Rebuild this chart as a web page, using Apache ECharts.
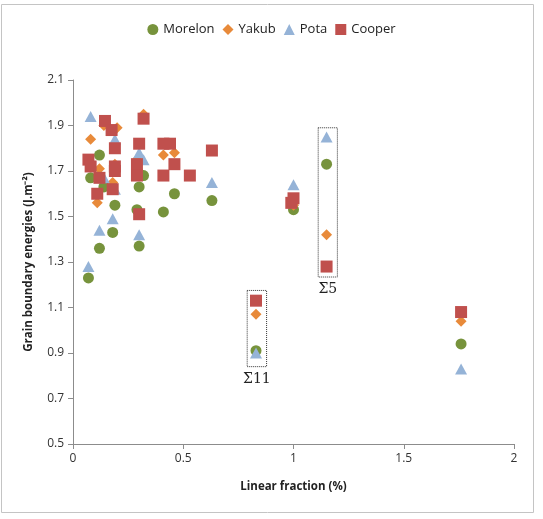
<!DOCTYPE html>
<html>
<head>
<meta charset="utf-8">
<script src="https://cdn.jsdelivr.net/npm/echarts@6/dist/echarts.min.js"></script>
<style>
  html, body { margin: 0; padding: 0; background: #fff; }
  #main { width: 543px; height: 519px; }
</style>
</head>
<body>
<div id="main"></div>
<script>
var morelon = [[0.07,1.23],[0.08,1.67],[0.12,1.77],[0.12,1.36],[0.14,1.63],[0.18,1.43],[0.19,1.55],
  [0.29,1.53],[0.30,1.37],[0.30,1.63],[0.32,1.68],[0.41,1.52],[0.46,1.60],[0.63,1.57],
  [0.83,0.91],[1.00,1.53],[1.15,1.73],[1.76,0.94]];
var yakub = [[0.08,1.84],[0.11,1.56],[0.12,1.71],[0.14,1.90],[0.18,1.65],[0.19,1.73],[0.20,1.89],
  [0.29,1.75],[0.32,1.95],[0.41,1.77],[0.46,1.78],[0.83,1.07],[1.00,1.55],[1.15,1.42],[1.76,1.04]];
var pota = [[0.07,1.28],[0.08,1.94],[0.12,1.44],[0.14,1.67],[0.18,1.49],[0.19,1.84],[0.19,1.62],
  [0.30,1.42],[0.30,1.78],[0.32,1.75],[0.63,1.65],[0.83,0.90],[1.00,1.64],[1.15,1.85],[1.76,0.83]];
var cooper = [[0.07,1.75],[0.08,1.72],[0.11,1.60],[0.12,1.67],[0.145,1.92],[0.175,1.88],[0.18,1.62],
  [0.19,1.80],[0.19,1.72],[0.19,1.70],[0.29,1.73],[0.29,1.68],[0.30,1.82],[0.30,1.51],[0.32,1.93],
  [0.41,1.82],[0.44,1.82],[0.41,1.68],[0.46,1.73],[0.53,1.68],[0.63,1.79],[0.83,1.13],
  [0.99,1.56],[1.00,1.58],[1.15,1.28],[1.76,1.08]];

// dotted boxes around the special boundaries
var boxNames = ['Σ11', 'Σ5'];
var boxX = [[0.79, 0.878], [1.112, 1.199]];
var boxY = [[0.84, 1.175], [1.234, 1.89]];

var font = 'Open Sans';
var myChart = echarts.init(document.getElementById('main'));

var areas = [];
for (var i = 0; i < boxNames.length; i++) {
  areas.push([
    {name: boxNames[i], coord: [boxX[i][0], boxY[i][1]]},
    {coord: [boxX[i][1], boxY[i][0]]}
  ]);
}

option = {
  animation: false,
  textStyle: {fontFamily: font},
  graphic: [{
    type: 'rect',
    shape: {x: 1.5, y: 4.5, width: 532, height: 508},
    style: {fill: 'none', stroke: '#c4c4c4', lineWidth: 1}
  }],
  legend: {
    top: 18,
    left: 'center',
    itemWidth: 11,
    itemHeight: 11,
    itemGap: 8,
    textStyle: {fontFamily: font, fontSize: 13, color: '#222'},
    data: ['Morelon', 'Yakub', 'Pota', 'Cooper']
  },
  grid: {left: 73, right: 29, top: 80, bottom: 75},
  xAxis: {
    type: 'value',
    min: 0, max: 2, interval: 0.5,
    name: 'Linear fraction (%)',
    nameLocation: 'middle',
    nameGap: 37,
    nameTextStyle: {fontFamily: font, fontSize: 11.5, fontWeight: 'bold', color: '#222'},
    axisLine: {lineStyle: {color: '#8c8c8c'}},
    axisTick: {show: true, length: 5, lineStyle: {color: '#8c8c8c'}},
    axisLabel: {fontFamily: font, fontSize: 12, color: '#333', margin: 9},
    splitLine: {show: false}
  },
  yAxis: {
    type: 'value',
    min: 0.5, max: 2.1, interval: 0.2,
    name: 'Grain boundary energies (J.m\u207B\u00B2)',
    nameLocation: 'middle',
    nameGap: 38,
    nameTextStyle: {fontFamily: font, fontSize: 11.5, fontWeight: 'bold', color: '#222'},
    axisLine: {show: true, lineStyle: {color: '#8c8c8c'}},
    axisTick: {show: true, length: 5, lineStyle: {color: '#8c8c8c'}},
    axisLabel: {fontFamily: font, fontSize: 12, color: '#333', margin: 9,
      formatter: function (v) { return v.toFixed(1); }},
    splitLine: {show: false}
  },
  series: [
    {name: 'Morelon', type: 'scatter', symbol: 'circle', symbolSize: 11,
      itemStyle: {color: '#77933C', opacity: 1}, data: morelon},
    {name: 'Yakub', type: 'scatter', symbol: 'diamond', symbolSize: [11, 11],
      itemStyle: {color: '#E88A3A', opacity: 1}, data: yakub},
    {name: 'Pota', type: 'scatter', symbol: 'triangle', symbolSize: [12, 11],
      itemStyle: {color: '#95B3D7', opacity: 1}, data: pota},
    {name: 'Cooper', type: 'scatter', symbol: 'rect', symbolSize: 12,
      itemStyle: {color: '#C0504D', opacity: 1}, data: cooper,
      markArea: {
        silent: true,
        itemStyle: {color: 'rgba(0,0,0,0)', borderColor: '#333', borderWidth: 1, borderType: 'dotted'},
        label: {show: true, position: 'bottom', distance: 5,
          fontFamily: 'DejaVu Serif', fontSize: 14, color: '#222'},
        data: areas
      }}
  ]
};
myChart.setOption(option);
</script>
</body>
</html>
